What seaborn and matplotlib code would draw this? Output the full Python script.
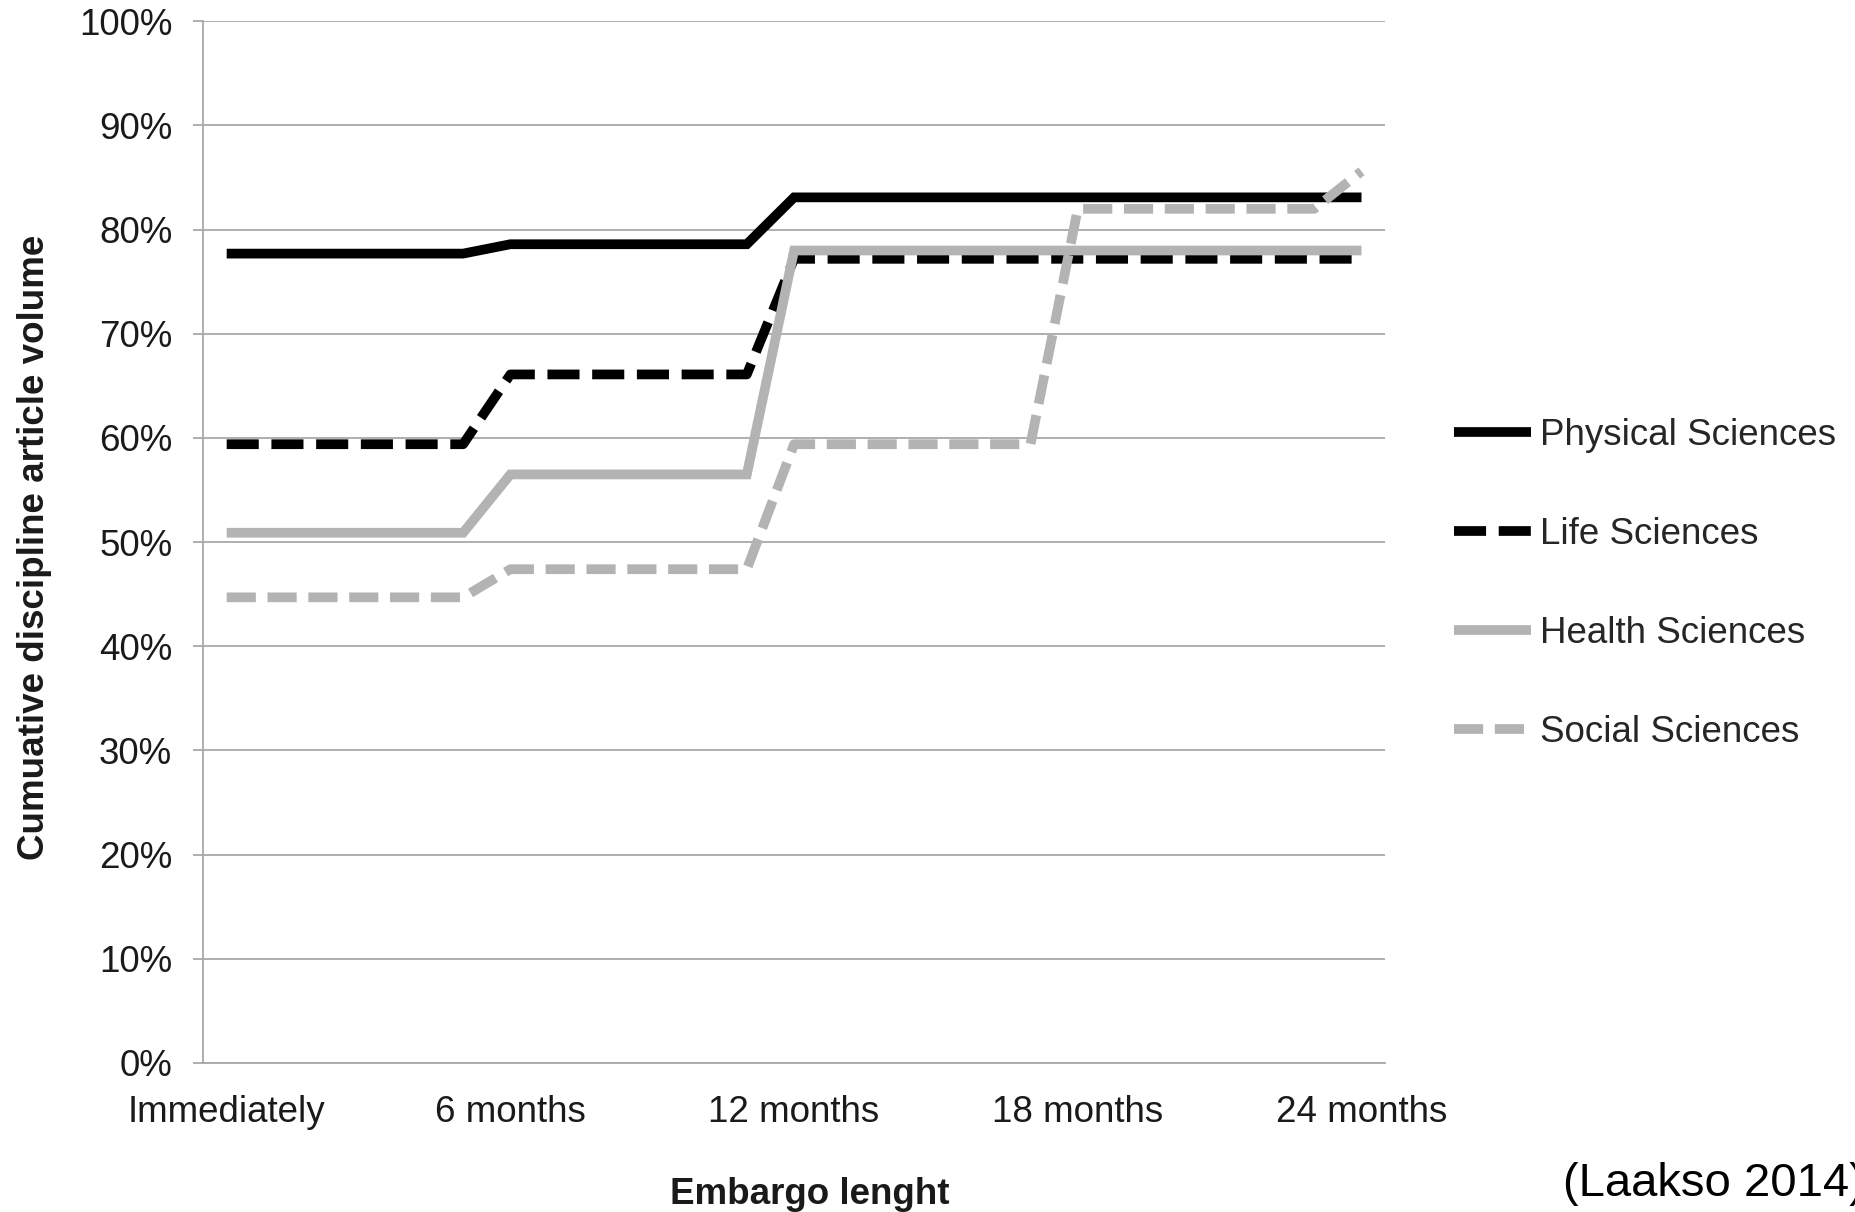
import pandas as pd
import matplotlib
matplotlib.use("Agg")
import matplotlib.pyplot as plt
import seaborn as sns

# monthly embargo steps, 0 = immediately ... 24 months
months = list(range(25))
tick_months = [0, 6, 12, 18, 24]
tick_labels = ["Immediately", "6 months", "12 months", "18 months", "24 months"]

physical = [77.7, 77.7, 77.7, 77.7, 77.7, 77.7,
            78.6, 78.6, 78.6, 78.6, 78.6, 78.6,
            83.1, 83.1, 83.1, 83.1, 83.1, 83.1,
            83.1, 83.1, 83.1, 83.1, 83.1, 83.1, 83.1]
life = [59.4, 59.4, 59.4, 59.4, 59.4, 59.4,
        66.1, 66.1, 66.1, 66.1, 66.1, 66.1,
        77.2, 77.2, 77.2, 77.2, 77.2, 77.2,
        77.2, 77.2, 77.2, 77.2, 77.2, 77.2, 77.2]
health = [50.9, 50.9, 50.9, 50.9, 50.9, 50.9,
          56.5, 56.5, 56.5, 56.5, 56.5, 56.5,
          78.0, 78.0, 78.0, 78.0, 78.0, 78.0,
          78.0, 78.0, 78.0, 78.0, 78.0, 78.0, 78.0]
social = [44.7, 44.7, 44.7, 44.7, 44.7, 44.7,
          47.4, 47.4, 47.4, 47.4, 47.4, 47.4,
          59.4, 59.4, 59.4, 59.4, 59.4, 59.4,
          82.0, 82.0, 82.0, 82.0, 82.0, 82.0, 85.6]

names = ["Physical Sciences", "Life Sciences", "Health Sciences", "Social Sciences"]

# long table for seaborn
rows = []
for name, vals in zip(names, [physical, life, health, social]):
    for m, v in zip(months, vals):
        rows.append({"month": m, "value": v, "discipline": name})
df = pd.DataFrame(rows)

sns.set_theme(style="white")
plt.rcParams["font.family"] = ["Liberation Sans", "DejaVu Sans"]

fig = plt.figure(figsize=(18.56, 12.12), dpi=100)
ax = fig.add_axes([0.1094, 0.123, 0.6369, 0.8594])

gray_line = "#b3b3b3"
grid_col = "#a8a8a8"
fs = 26.5

sns.lineplot(data=df, x="month", y="value", hue="discipline", style="discipline",
             hue_order=names, style_order=names,
             palette={"Physical Sciences": "black", "Life Sciences": "black",
                      "Health Sciences": gray_line, "Social Sciences": gray_line},
             dashes={"Physical Sciences": "", "Life Sciences": (3.3, 1.3),
                     "Health Sciences": "", "Social Sciences": (3.0, 1.2)},
             linewidth=7.0, ax=ax, legend=True)

for ln in ax.get_lines():
    ln.set_solid_capstyle("butt")
    ln.set_dash_capstyle("butt")
    ln.set_solid_joinstyle("miter")

ax.set_xlim(-0.5, 24.5)
ax.set_ylim(0, 100)
ax.set_yticks(range(0, 101, 10))
ax.set_yticklabels([f"{v}%" for v in range(0, 101, 10)])
ax.set_xticks(tick_months)
ax.set_xticklabels(tick_labels)

ax.yaxis.grid(True, color=grid_col, linewidth=1.3)
ax.xaxis.grid(False)
ax.set_axisbelow(True)
for s in ["top", "right"]:
    ax.spines[s].set_visible(False)
for s in ["left", "bottom"]:
    ax.spines[s].set_color(grid_col)
    ax.spines[s].set_linewidth(1.3)

ax.tick_params(axis="y", left=True, length=7.2, width=1.3, color=grid_col,
               pad=15, labelsize=fs, labelcolor="#1a1a1a")
ax.tick_params(axis="x", bottom=False, length=0, pad=23, labelsize=fs,
               labelcolor="#1a1a1a")

ax.set_xlabel("Embargo lenght", fontsize=fs, fontweight="bold", color="#1a1a1a")
ax.set_ylabel("Cumuative discipline article volume", fontsize=fs,
              fontweight="bold", color="#1a1a1a")
ax.xaxis.set_label_coords(0.513, -0.11)
ax.yaxis.set_label_coords(-0.128, 0.495)

handles, labels = ax.get_legend_handles_labels()
ax.get_legend().remove()
fig.legend(handles, labels, loc="center left", bbox_to_anchor=(0.7834, 0.518),
           frameon=False, fontsize=fs, handlelength=2.1, handletextpad=0.25,
           labelspacing=1.74, borderpad=0, borderaxespad=0)

fig.text(0.842, 0.013, "(Laakso 2014)", fontsize=34, color="black",
         ha="left", va="baseline")

fig.savefig("out.png", dpi=100)
